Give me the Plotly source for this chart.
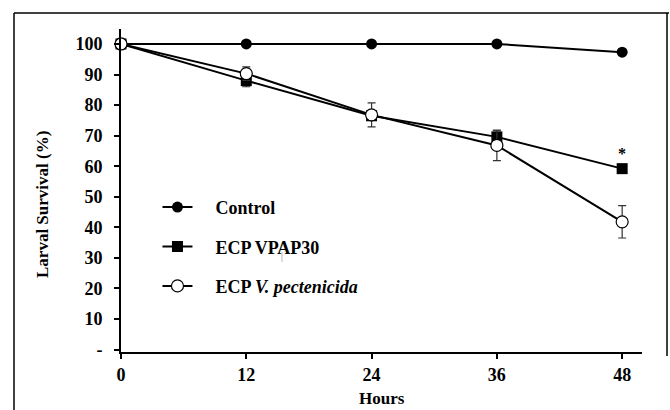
import plotly.graph_objects as go

hours = [0, 12, 24, 36, 48]
control = [100, 100, 100, 100, 97.3]
vpap30 = [100, 88.0, 76.5, 69.6, 59.2]
vpap30_err = [0, 2.0, 1.5, 2.0, 0]
vpect = [100, 90.3, 76.8, 66.8, 41.8]
vpect_err = [0, 2.2, 3.9, 5.0, 5.3]
y_ticks = [0, 10, 20, 30, 40, 50, 60, 70, 80, 90, 100]
y_labels = ["-", "10", "20", "30", "40", "50", "60", "70", "80", "90", "100"]

FONT = "Liberation Serif"
PAD = "\u00a0" * 4

fig = go.Figure()
fig.add_trace(go.Scatter(
    x=hours, y=control, name=PAD + "Control", mode="lines+markers",
    line=dict(color="black", width=2),
    marker=dict(symbol="circle", size=11, color="black"),
    cliponaxis=False, legendgroup="a"))
fig.add_trace(go.Scatter(
    x=hours, y=vpap30, name=PAD + "ECP VPAP30", mode="lines+markers",
    line=dict(color="black", width=2),
    marker=dict(symbol="square", size=11, color="black"),
    error_y=dict(type="data", array=vpap30_err, color="#333", thickness=1.2, width=4),
    cliponaxis=False, legendgroup="b"))
fig.add_trace(go.Scatter(
    x=hours, y=vpect, name=PAD + "ECP <i>V. pectenicida</i>", mode="lines+markers",
    line=dict(color="black", width=2),
    marker=dict(symbol="circle", size=12, color="white", line=dict(color="black", width=1.2)),
    error_y=dict(type="data", array=vpect_err, color="#333", thickness=1.2, width=4),
    cliponaxis=False, legendgroup="c"))

fig.add_annotation(x=48, y=vpap30[-1] + 1.4, text="*", showarrow=False,
                   font=dict(family=FONT, size=16, color="black", weight="bold"),
                   yanchor="bottom")

# axis titles
fig.add_annotation(xref="paper", yref="paper", x=(382 - 121) / 521, y=-(399 - 352) / 323,
                   text="Hours", showarrow=False, yanchor="middle",
                   font=dict(family=FONT, size=17, color="black", weight="bold"))
fig.add_annotation(xref="paper", yref="paper", x=-(121 - 42) / 521, y=(352 - 205) / 323,
                   text="Larval Survival (%)", showarrow=False, textangle=-90,
                   xanchor="center", yanchor="middle",
                   font=dict(family=FONT, size=17, color="black", weight="bold"))

# outer frame lines and small artifact
fig.add_shape(type="line", xref="paper", yref="paper",
              x0=-(121 - 14) / 521, x1=(669 - 121) / 521, y0=(352 - 13) / 323, y1=(352 - 13) / 323,
              line=dict(color="black", width=1.5))
fig.add_shape(type="line", xref="paper", yref="paper",
              x0=-(121 - 14) / 521, x1=-(121 - 14) / 521, y0=(352 - 13) / 323, y1=-(420 - 352) / 323,
              line=dict(color="black", width=1.5))
fig.add_shape(type="line", xref="paper", yref="paper",
              x0=(667 - 121) / 521, x1=(667 - 121) / 521, y0=(352 - 13) / 323, y1=-(356 - 352) / 323,
              line=dict(color="black", width=1.5))
fig.add_shape(type="line", xref="paper", yref="paper",
              x0=(282 - 121) / 521, x1=(282 - 121) / 521, y0=(352 - 252) / 323, y1=(352 - 262) / 323,
              line=dict(color="#bbb", width=1))

fig.update_layout(
    width=670, height=410,
    margin=dict(l=121, r=28, t=29, b=58),
    paper_bgcolor="white", plot_bgcolor="white",
    font=dict(family=FONT, size=17, color="black"),
    showlegend=True,
    legend=dict(x=0.07, y=0.505, xanchor="left", yanchor="top",
                bgcolor="rgba(0,0,0,0)", tracegroupgap=13,
                font=dict(family=FONT, size=18, color="black", weight="bold")),
    xaxis=dict(range=[0, 49.9], tickvals=hours, ticktext=[str(h) for h in hours],
               showgrid=False, zeroline=False, showline=True, linecolor="black", linewidth=2,
               ticks="outside", ticklen=5, tickwidth=2, tickcolor="black",
               tickfont=dict(family=FONT, size=18, color="black", weight="bold")),
    yaxis=dict(range=[-0.8, 104.9], tickvals=y_ticks, ticktext=y_labels,
               showgrid=False, zeroline=False, showline=True, linecolor="black", linewidth=2,
               ticks="outside", ticklen=5, tickwidth=2, tickcolor="black",
               ticklabelstandoff=8,
               tickfont=dict(family=FONT, size=18, color="black", weight="bold")),
)

fig.write_html("out.html", config={"displayModeBar": False},
               post_script="document.body.style.margin='0';document.body.style.overflow='hidden';")
